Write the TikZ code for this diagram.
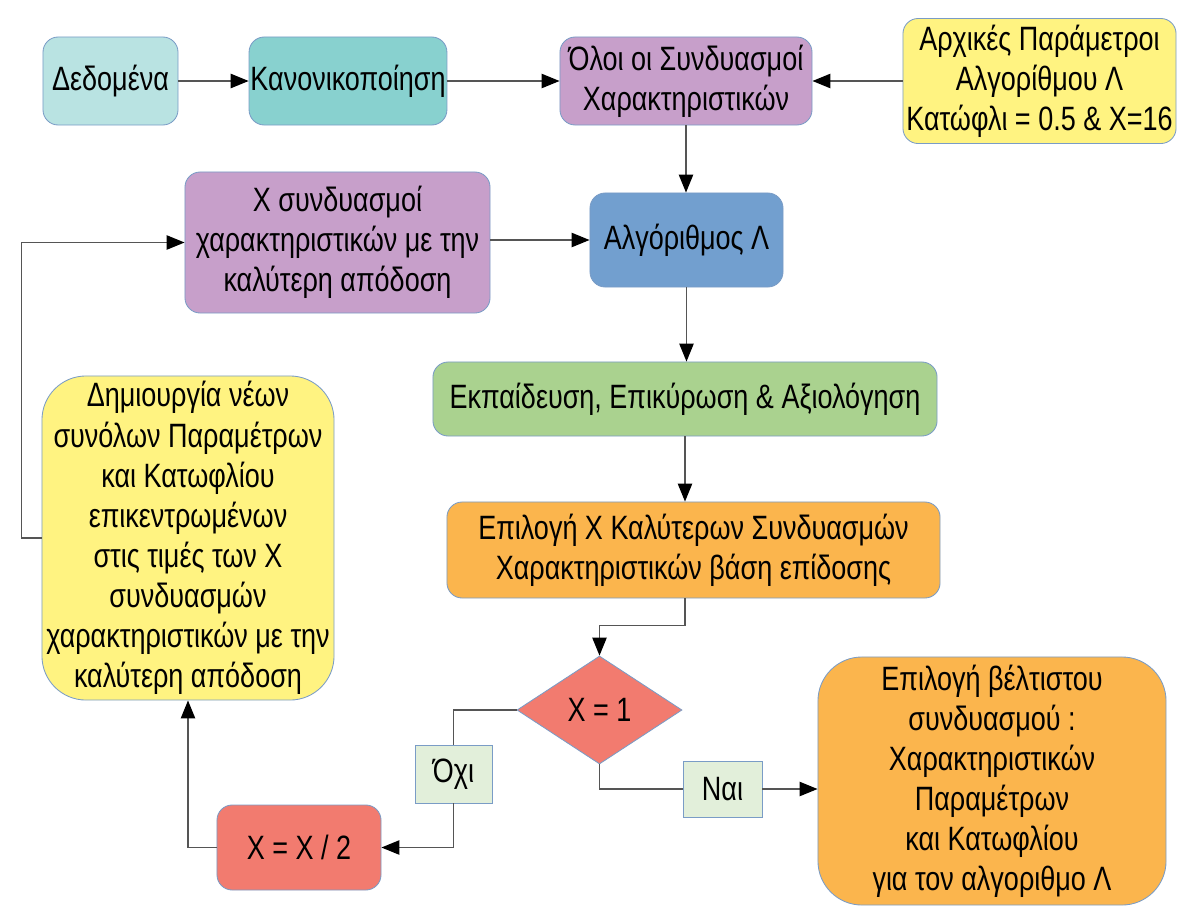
\documentclass[tikz,border=0pt]{standalone}
\usepackage{fontspec}
\setmainfont{Liberation Sans}[FakeStretch=0.8]
\usepackage{tikz}
\usetikzlibrary{arrows.meta,shapes.geometric,calc}
\definecolor{rand}{HTML}{7A9CC6}
\definecolor{grau}{HTML}{555555}
\definecolor{tuerkisl}{HTML}{B9E3E2}
\definecolor{tuerkis}{HTML}{88D1CF}
\definecolor{lila}{HTML}{C79FCA}
\definecolor{gelb}{HTML}{FFF381}
\definecolor{blau}{HTML}{729FCF}
\definecolor{gruen}{HTML}{AAD28F}
\definecolor{orange}{HTML}{FBB54D}
\definecolor{rot}{HTML}{F27B6F}
\definecolor{gruenl}{HTML}{E2EFDA}
\tikzset{
  box/.style={draw=rand,line width=0.6pt,rounded corners=0.38cm,align=center,inner sep=1pt,
    font=\fontsize{24}{28.5}\selectfont},
  bigbox/.style={box,rounded corners=1.1cm},
  raute/.style={diamond,draw=rand,line width=0.6pt,fill=rot,inner sep=0pt,aspect=1.53,
    font=\fontsize{24}{28.5}\selectfont},
  marke/.style={draw=rand,line width=0.6pt,fill=gruenl,inner sep=0pt,
    font=\fontsize{24}{28.5}\selectfont},
  pfeil/.style={-{Triangle[length=0.45cm,width=0.36cm,color=black]},grau,line width=0.9pt},
  verb/.style={grau,line width=0.9pt},
}
\begin{document}
\begin{tikzpicture}[x=0.025cm,y=-0.025cm]
  \useasboundingbox (0,0) rectangle (1203,915);
  % ===== obere Reihe =====
  \node[box,fill=tuerkisl,minimum width=3.375cm,minimum height=2.2cm] (dat) at (110.5,81) {Δεδομένα};
  \node[box,fill=tuerkis,minimum width=4.9cm,minimum height=2.2cm] (norm) at (348,81) {Κανονικοποίηση};
  \node[box,fill=lila,minimum width=6.3cm,minimum height=2.2cm] (allc) at (686,81) {Όλοι οι Συνδυασμοί\\Χαρακτηριστικών};
  \node[box,fill=gelb,minimum width=6.825cm,minimum height=3.125cm] (init) at (1039.5,81) {Αρχικές Παράμετροι\\Αλγορίθμου Λ\\Κατώφλι = 0.5 \& Χ=16};
  % ===== mitte =====
  \node[box,fill=lila,minimum width=7.625cm,minimum height=3.525cm] (best) at (337.5,242.5) {Χ συνδυασμοί\\χαρακτηριστικών με την\\καλύτερη απόδοση};
  \node[box,fill=blau,minimum width=4.825cm,minimum height=2.35cm] (alg) at (686.5,240) {Αλγόριθμος Λ};
  \node[box,fill=gruen,minimum width=12.6cm,minimum height=1.85cm] (train) at (685,399) {Εκπαίδευση, Επικύρωση \& Αξιολόγηση};
  \node[box,fill=orange,minimum width=12.325cm,minimum height=2.4cm] (sel) at (693.5,550) {Επιλογή Χ Καλύτερων Συνδυασμών\\Χαρακτηριστικών βάση επίδοσης};
  \node[bigbox,fill=gelb,minimum width=7.3cm,minimum height=8.1cm] (newp) at (188,538) {Δημιουργία νέων\\συνόλων Παραμέτρων\\και Κατωφλίου\\επικεντρωμένων\\στις τιμές των Χ\\συνδυασμών\\χαρακτηριστικών με την\\καλύτερη απόδοση};
  % ===== unten =====
  \node[raute,minimum width=4.125cm,minimum height=2.7cm] (dia) at (599.5,710) {Χ = 1};
  \node[box,fill=rot,minimum width=4.1cm,minimum height=2.125cm] (half) at (299,847.5) {Χ = Χ / 2};
  \node[bigbox,fill=orange,minimum width=8.7cm,minimum height=6.2cm] (fin) at (992,781) {Επιλογή βέλτιστου\\συνδυασμού :\\Χαρακτηριστικών\\Παραμέτρων\\και Κατωφλίου\\για τον αλγοριθμο Λ};
  \node[marke,minimum width=1.925cm,minimum height=1.45cm] (no) at (453.5,774) {Όχι};
  \node[marke,minimum width=1.975cm,minimum height=1.4cm] (yes) at (722.5,789) {Ναι};
  % ===== pfeile =====
  \draw[pfeil] (dat) -- (norm);
  \draw[pfeil] (norm) -- (allc);
  \draw[pfeil] (init) -- (allc);
  \draw[pfeil] (allc.south) -- (allc.south |- alg.north);
  \draw[pfeil] (best.east |- alg.west) -- (alg.west);
  \draw[pfeil] (alg.south) -- (alg.south |- train.north);
  \draw[pfeil] (train.south) -- (train.south |- sel.north);
  \draw[pfeil] (train.south |- sel.south) -- ++(0,27) -| (dia.north);
  \draw[verb] (dia.west) -| (no.north);
  \draw[pfeil] (no.south) |- (half.east);
  \draw[verb] (dia.south) |- (yes.west);
  \draw[pfeil] (yes.east) -- (yes.east -| fin.west);
  \draw[pfeil] (half.west) -| (newp.south);
  \draw[pfeil] (newp.west) -- ++(-20,0) |- (best.west);
\end{tikzpicture}
\end{document}
